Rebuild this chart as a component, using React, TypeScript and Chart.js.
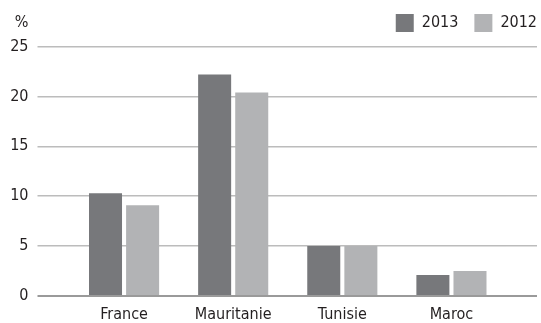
import React, { useEffect, useRef } from "react";
import { Chart, registerables } from "chart.js";

Chart.register(...registerables);

// Data
const countries = ["France", "Mauritanie", "Tunisie", "Maroc"];
const values2013 = [10.3, 22.2, 5.0, 2.1];
const values2012 = [9.1, 20.4, 5.0, 2.5];
const seriesLabels = ["2013", "2012"];
const yTicks = [0, 5, 10, 15, 20, 25];
const unitLabel = "%";

const FONT = "'DejaVu Sans Condensed', 'Liberation Sans', sans-serif";
const FONT_SIZE = 16;
const TEXT = "#231f20";
const DARK = "#77787b";
const LIGHT = "#b2b3b5";
const GRID = "#bcbcbc";
const BASE = "#9a9a9a";

// Draws the unit label above the value axis and nudges the legend into the top-right corner
const unitPlugin = {
  id: "unitLabel",
  afterLayout(chart: any) {
    const lg = chart.legend;
    if (!lg) return;
    const dx = 12;
    const dy = -4.5;
    lg.left += dx;
    lg.right += dx;
    lg.top += dy;
    lg.bottom += dy;
  },
  afterDraw(chart: any) {
    const { ctx } = chart;
    const y = chart.scales.y;
    ctx.save();
    ctx.font = `${FONT_SIZE}px ${FONT}`;
    ctx.fillStyle = TEXT;
    ctx.textAlign = "right";
    ctx.textBaseline = "middle";
    ctx.fillText(unitLabel, y.right - 41, 23);
    ctx.restore();
  },
};

export default function App() {
  const canvasRef = useRef<HTMLCanvasElement | null>(null);

  useEffect(() => {
    if (!canvasRef.current) return;
    const gridColor = (c: any) => (c.tick && c.tick.value === 0 ? BASE : GRID);
    const gridWidth = (c: any) => (c.tick && c.tick.value === 0 ? 2 : 1.5);
    const chart = new Chart(canvasRef.current, {
      type: "bar",
      data: {
        labels: countries,
        datasets: [
          {
            label: seriesLabels[0],
            data: values2013,
            backgroundColor: DARK,
            categoryPercentage: 0.68,
            barPercentage: 0.89,
          },
          {
            label: seriesLabels[1],
            data: values2012,
            backgroundColor: LIGHT,
            categoryPercentage: 0.68,
            barPercentage: 0.89,
          },
        ],
      },
      options: {
        animation: false,
        responsive: true,
        maintainAspectRatio: false,
        layout: { padding: { top: 2.5, left: 0, right: 0, bottom: 0 } },
        plugins: {
          legend: {
            position: "top",
            align: "end",
            labels: {
              boxWidth: 18,
              boxHeight: 18,
              color: TEXT,
              padding: 16,
              font: { family: FONT, size: FONT_SIZE },
            },
          },
          tooltip: { enabled: false },
        },
        scales: {
          x: {
            grid: { display: false, drawTicks: false },
            border: { display: false },
            ticks: {
              color: TEXT,
              font: { family: FONT, size: FONT_SIZE },
              padding: 9,
            },
            afterFit: (s: any) => {
              s.height = 27;
            },
          },
          y: {
            min: 0,
            max: 25,
            afterBuildTicks: (s: any) => {
              s.ticks = yTicks.map((v) => ({ value: v }));
            },
            grid: {
              color: gridColor,
              lineWidth: gridWidth,
              drawTicks: true,
              tickLength: 32,
            },
            border: { display: false },
            ticks: {
              color: TEXT,
              font: { family: FONT, size: FONT_SIZE },
              padding: 9,
            },
            afterFit: (s: any) => {
              s.width = 69.5;
            },
          },
          yRight: {
            position: "right",
            min: 0,
            max: 25,
            afterBuildTicks: (s: any) => {
              s.ticks = yTicks.map((v) => ({ value: v }));
            },
            grid: {
              color: gridColor,
              lineWidth: gridWidth,
              drawOnChartArea: false,
              drawTicks: true,
              tickLength: 31,
            },
            border: { display: false },
            ticks: { display: false },
            afterFit: (s: any) => {
              s.width = 35;
            },
          },
        },
      },
      plugins: [unitPlugin],
    });
    return () => chart.destroy();
  }, []);

  return (
    <div
      style={{
        position: "fixed",
        left: 0,
        top: 0,
        width: 541,
        height: 323,
        background: "#ffffff",
      }}
    >
      <canvas ref={canvasRef} />
    </div>
  );
}
